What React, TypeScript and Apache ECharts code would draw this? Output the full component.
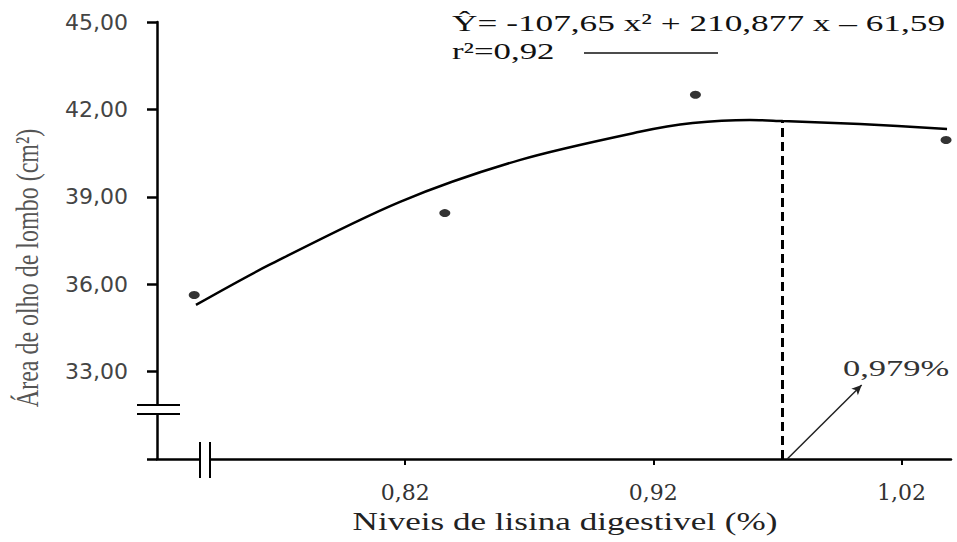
import React, { useEffect, useRef } from "react";
import * as echarts from "echarts";

// Observed means (lysine level %, loin-eye area cm²)
const xLevels = [0.735, 0.836, 0.937, 1.038];
const observedArea = [35.63, 38.44, 42.5, 40.95];

// Fitted curve
const fitX = [0.7357, 0.7652, 0.8177, 0.8661, 0.9145, 0.9359, 0.9589, 0.9722, 1.0033, 1.0384];
const fitY = [35.29, 36.66, 38.82, 40.26, 41.23, 41.53, 41.64, 41.6, 41.5, 41.33];

// Optimum marker and arrow
const optimumX = 0.972;
const optimumY = 41.6;
const arrowFrom = [0.974, 30];
const arrowTo = [1.004, 32.54];

const xTickValues = [0.82, 0.92, 1.02];
const yTickValues = [33, 36, 39, 42, 45];

const equationText = "Ŷ= -107,65 x² + 210,877 x – 61,59";
const r2Text = "r²=0,92";
const optimumText = "0,979%";
const xTitle = "Niveis de lisina digestivel (%)";
const yTitle = "Área de olho de lombo (cm²)";

const fmt = (v: number) => v.toFixed(2).replace(".", ",");

export default function App() {
  const ref = useRef<HTMLDivElement>(null);
  useEffect(() => {
    if (!ref.current) return;
    const chart = echarts.init(ref.current, null, { renderer: "svg" });
    const serif = "Liberation Serif";
    const option: any = {
      animation: false,
      backgroundColor: "#ffffff",
      grid: { left: 157, right: 6, top: 22, bottom: 83, containLabel: false },
      xAxis: {
        type: "value",
        min: 0.72,
        max: 1.04,
        splitLine: { show: false },
        axisLine: { show: true, lineStyle: { color: "#000", width: 2.5 } },
        axisTick: {
          show: true,
          customValues: xTickValues,
          length: 6,
          lineStyle: { color: "#000", width: 2 },
        },
        axisLabel: {
          customValues: xTickValues,
          formatter: (v: number) => fmt(v),
          fontFamily: "DejaVu Serif",
          fontSize: 22,
          color: "#333",
          margin: 22,
        },
      },
      yAxis: {
        type: "value",
        min: 30,
        max: 45,
        interval: 3,
        splitLine: { show: false },
        axisLine: { show: true, lineStyle: { color: "#000", width: 2.5 } },
        axisTick: { show: true, length: 10, lineStyle: { color: "#000", width: 2.5 } },
        axisLabel: {
          customValues: yTickValues,
          formatter: (v: number) => fmt(v),
          fontFamily: "DejaVu Sans",
          fontSize: 22,
          color: "#444",
          margin: 29,
        },
      },
      series: [
        {
          type: "line",
          data: fitX.map((x, i) => [x, fitY[i]]),
          smooth: 0.3,
          showSymbol: false,
          symbol: "none",
          lineStyle: { color: "#000", width: 2.5 },
          z: 3,
          markLine: {
            silent: true,
            symbol: ["none", "none"],
            label: { show: false },
            data: [
              [
                { coord: [optimumX, 30], lineStyle: { color: "#000", width: 3, type: [9, 5] } },
                { coord: [optimumX, optimumY] },
              ],
              [
                { coord: arrowFrom, symbol: "none", lineStyle: { color: "#222", width: 1.5, type: "solid" } },
                { coord: arrowTo, symbol: "arrow", symbolSize: [7, 10] },
              ],
            ],
          },
        },
        {
          type: "scatter",
          data: xLevels.map((x, i) => [x, observedArea[i]]),
          symbol: "circle",
          symbolSize: [11, 8],
          itemStyle: { color: "#000" },
          z: 4,
        },
      ],
      graphic: [
        // y-axis break
        { type: "rect", z: 100, shape: { x: 148, y: 406, width: 18, height: 7 }, style: { fill: "#fff" } },
        { type: "line", z: 101, shape: { x1: 137, y1: 405, x2: 180, y2: 405 }, style: { stroke: "#000", lineWidth: 2 } },
        { type: "line", z: 101, shape: { x1: 137, y1: 414, x2: 180, y2: 414 }, style: { stroke: "#000", lineWidth: 2 } },
        // x-axis break
        { type: "rect", z: 100, shape: { x: 201, y: 454, width: 8, height: 10 }, style: { fill: "#fff" } },
        { type: "line", z: 101, shape: { x1: 200, y1: 442, x2: 200, y2: 478 }, style: { stroke: "#000", lineWidth: 2 } },
        { type: "line", z: 101, shape: { x1: 210, y1: 442, x2: 210, y2: 478 }, style: { stroke: "#000", lineWidth: 2 } },
        // legend line
        { type: "line", z: 101, shape: { x1: 584, y1: 53, x2: 718, y2: 53 }, style: { stroke: "#111", lineWidth: 1.5 } },
        {
          type: "text", z: 101, x: 452, y: 23, scaleX: 1.47,
          style: { text: equationText, fontFamily: serif, fontSize: 24, fill: "#111", align: "left", verticalAlign: "middle" },
        },
        {
          type: "text", z: 101, x: 452, y: 51, scaleX: 1.45,
          style: { text: r2Text, fontFamily: serif, fontSize: 24, fill: "#111", align: "left", verticalAlign: "middle" },
        },
        {
          type: "text", z: 101, x: 843, y: 368, scaleX: 1.5,
          style: { text: optimumText, fontFamily: serif, fontSize: 23, fill: "#333", align: "left", verticalAlign: "middle" },
        },
        {
          type: "text", z: 101, x: 565, y: 521, scaleX: 1.35,
          style: { text: xTitle, fontFamily: serif, fontSize: 26, fill: "#222", align: "center", verticalAlign: "middle" },
        },
        {
          type: "text", z: 101, x: 27, y: 268, rotation: Math.PI / 2, scaleY: 1.35,
          style: { text: yTitle, fontFamily: serif, fontSize: 24, fill: "#555", align: "center", verticalAlign: "middle" },
        },
      ],
    };
    chart.setOption(option);
    return () => chart.dispose();
  }, []);
  return (
    <div
      ref={ref}
      style={{ position: "fixed", left: 0, top: 0, width: 957, height: 542, background: "#fff" }}
    />
  );
}
